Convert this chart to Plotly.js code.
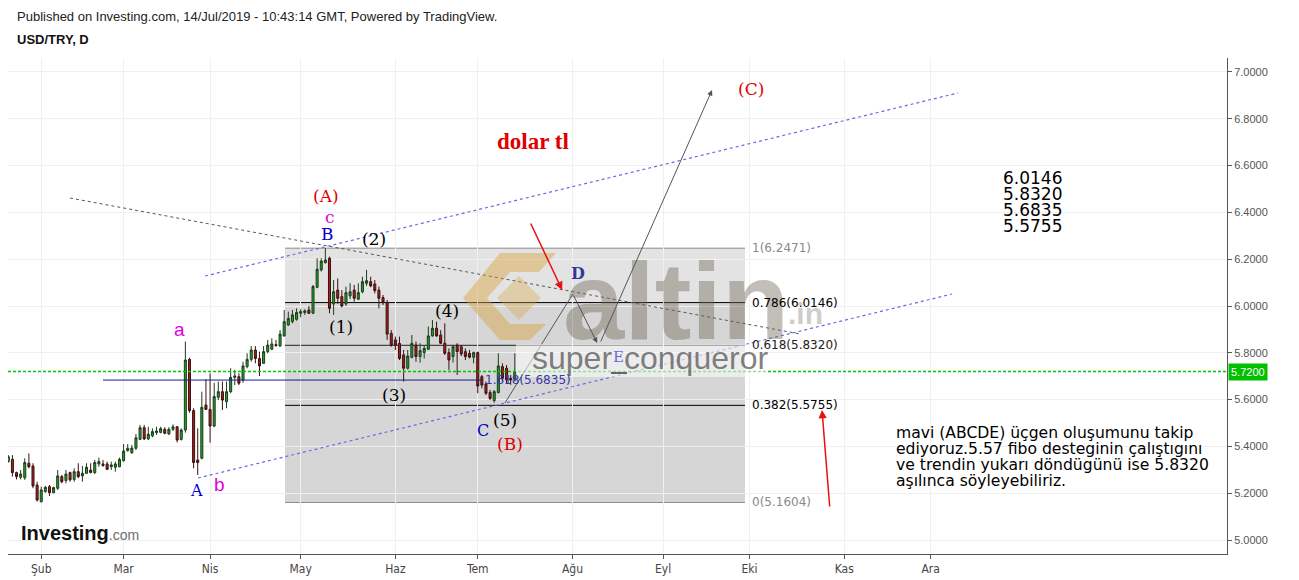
<!DOCTYPE html>
<html><head><meta charset="utf-8">
<script src="https://cdn.plot.ly/plotly-3.0.1.min.js"></script>
<style>html,body{margin:0;padding:0;background:#fff;} #chart{width:1299px;height:580px;}</style>
</head><body><div id="chart"></div>
<script>
// ---- DATA (USD/TRY daily) ----
const dates = [
'2019-01-22','2019-01-23','2019-01-24','2019-01-25','2019-01-28','2019-01-29','2019-01-30','2019-01-31',
'2019-02-01','2019-02-04','2019-02-05','2019-02-06','2019-02-07','2019-02-08','2019-02-11','2019-02-12','2019-02-13','2019-02-14','2019-02-15','2019-02-18','2019-02-19','2019-02-20','2019-02-21','2019-02-22','2019-02-25','2019-02-26','2019-02-27','2019-02-28',
'2019-03-01','2019-03-04','2019-03-05','2019-03-06','2019-03-07','2019-03-08','2019-03-11','2019-03-12','2019-03-13','2019-03-14','2019-03-15','2019-03-18','2019-03-19','2019-03-20','2019-03-21','2019-03-22','2019-03-25','2019-03-26','2019-03-27','2019-03-28','2019-03-29',
'2019-04-01','2019-04-02','2019-04-03','2019-04-04','2019-04-05','2019-04-08','2019-04-09','2019-04-10','2019-04-11','2019-04-12','2019-04-15','2019-04-16','2019-04-17','2019-04-18','2019-04-19','2019-04-22','2019-04-23','2019-04-24','2019-04-25','2019-04-26','2019-04-29','2019-04-30',
'2019-05-01','2019-05-02','2019-05-03','2019-05-06','2019-05-07','2019-05-08','2019-05-09','2019-05-10','2019-05-13','2019-05-14','2019-05-15','2019-05-16','2019-05-17','2019-05-20','2019-05-21','2019-05-22','2019-05-23','2019-05-24','2019-05-27','2019-05-28','2019-05-29','2019-05-30','2019-05-31',
'2019-06-03','2019-06-04','2019-06-05','2019-06-06','2019-06-07','2019-06-10','2019-06-11','2019-06-12','2019-06-13','2019-06-14','2019-06-17','2019-06-18','2019-06-19','2019-06-20','2019-06-21','2019-06-24','2019-06-25','2019-06-26','2019-06-27','2019-06-28',
'2019-07-01','2019-07-02','2019-07-03','2019-07-04','2019-07-05','2019-07-08','2019-07-09','2019-07-10','2019-07-11','2019-07-12'];
const openP = [5.335,5.345,5.288,5.268,5.266,5.328,5.316,5.235,
5.164,5.207,5.228,5.202,5.221,5.271,5.254,5.288,5.259,5.292,5.274,5.285,5.299,5.288,5.325,5.325,5.325,5.313,5.311,5.313,
5.339,5.382,5.373,5.392,5.430,5.480,5.432,5.445,5.459,5.460,5.473,5.453,5.473,5.484,5.430,5.470,5.772,5.553,5.342,5.349,5.577,
5.558,5.487,5.610,5.634,5.591,5.634,5.695,5.698,5.684,5.741,5.772,5.812,5.776,5.755,5.805,5.815,5.835,5.829,5.872,5.919,5.933,5.943,
5.969,5.972,5.983,5.969,6.080,6.154,6.185,6.204,6.009,6.068,6.040,6.009,6.043,6.068,6.029,6.061,6.097,6.104,6.094,6.068,6.036,6.014,5.883,
5.855,5.840,5.791,5.734,5.781,5.833,5.784,5.801,5.815,5.872,5.905,5.876,5.841,5.801,5.784,5.833,5.826,5.805,5.798,5.781,
5.801,5.698,5.667,5.630,5.596,5.630,5.741,5.734,5.691,5.687];
const highP = [5.363,5.363,5.292,5.299,5.349,5.370,5.328,5.249,
5.228,5.231,5.235,5.228,5.299,5.278,5.299,5.292,5.306,5.328,5.316,5.328,5.328,5.342,5.352,5.342,5.335,5.335,5.335,5.352,
5.410,5.410,5.406,5.453,5.492,5.492,5.484,5.477,5.484,5.484,5.482,5.482,5.494,5.487,5.477,5.848,5.779,5.563,5.477,5.634,5.687,
5.712,5.672,5.677,5.677,5.677,5.734,5.727,5.712,5.762,5.798,5.829,5.829,5.805,5.829,5.855,5.862,5.855,5.897,5.983,5.976,5.983,5.990,
5.986,5.986,6.000,6.090,6.204,6.204,6.247,6.211,6.111,6.118,6.068,6.083,6.097,6.090,6.097,6.125,6.154,6.125,6.111,6.083,6.047,6.026,5.897,
5.869,5.869,5.812,5.812,5.876,5.848,5.841,5.829,5.912,5.940,5.933,5.897,5.926,5.819,5.833,5.841,5.833,5.819,5.812,5.805,
5.805,5.705,5.677,5.641,5.641,5.798,5.755,5.748,5.705,5.798];
const lowP = [5.331,5.271,5.259,5.259,5.257,5.306,5.221,5.164,
5.160,5.202,5.188,5.200,5.214,5.242,5.242,5.249,5.249,5.264,5.249,5.282,5.285,5.282,5.313,5.313,5.299,5.299,5.292,5.311,
5.335,5.378,5.368,5.385,5.427,5.427,5.427,5.439,5.449,5.456,5.452,5.449,5.466,5.417,5.425,5.459,5.544,5.306,5.278,5.345,5.556,
5.416,5.482,5.598,5.556,5.563,5.627,5.662,5.662,5.672,5.734,5.762,5.755,5.701,5.752,5.798,5.812,5.826,5.826,5.869,5.915,5.926,5.937,
5.952,5.962,5.966,5.966,6.076,6.147,6.182,5.969,5.962,6.009,5.994,6.000,6.029,6.019,6.026,6.054,6.086,6.080,6.054,5.990,6.004,5.855,5.826,
5.812,5.769,5.677,5.729,5.776,5.762,5.758,5.776,5.812,5.869,5.869,5.838,5.791,5.727,5.758,5.705,5.786,5.769,5.776,5.755,
5.627,5.648,5.620,5.598,5.587,5.627,5.677,5.670,5.663,5.677];
const closeP = [5.356,5.288,5.271,5.282,5.331,5.313,5.231,5.171,
5.214,5.225,5.202,5.224,5.274,5.249,5.282,5.257,5.292,5.271,5.285,5.311,5.288,5.331,5.335,5.318,5.302,5.321,5.325,5.345,
5.380,5.392,5.393,5.437,5.480,5.432,5.452,5.463,5.466,5.476,5.456,5.473,5.484,5.427,5.470,5.769,5.553,5.331,5.331,5.567,5.558,
5.487,5.613,5.634,5.598,5.634,5.695,5.701,5.670,5.744,5.772,5.812,5.776,5.744,5.805,5.833,5.838,5.831,5.880,5.933,5.947,5.962,5.972,
5.976,5.979,5.969,6.083,6.157,6.192,6.197,5.990,6.061,6.033,6.000,6.057,6.061,6.033,6.057,6.104,6.108,6.086,6.066,6.033,6.014,5.880,5.833,
5.833,5.776,5.734,5.786,5.840,5.784,5.809,5.819,5.872,5.905,5.872,5.841,5.798,5.769,5.826,5.805,5.795,5.784,5.781,5.801,
5.658,5.662,5.627,5.605,5.634,5.744,5.691,5.684,5.684,5.720];

const monthTickDates = ['2019-02-01','2019-03-01','2019-04-01','2019-05-01','2019-06-03','2019-07-01','2019-08-01','2019-09-02','2019-10-01','2019-11-01','2019-12-02'];
const monthTickLabels = ['Şub','Mar','Nis','May','Haz','Tem','Ağu','Eyl','Eki','Kas','Ara'];

const fibLevels = [1, 0.786, 0.618, 0.382, 0];
const fibPrices = [6.2471, 6.0146, 5.8320, 5.5755, 5.1604];
const fibColors = ['#8a8a8a','#000000','#222222','#000000','#8a8a8a'];
const extLevel = 1.618, extPrice = 5.6835;
const lastPrice = 5.72;
const noteNumbers = ['6.0146','5.8320','5.6835','5.5755'];
const noteLines = ['mavi (ABCDE) üçgen oluşumunu takip','ediyoruz.5.57 fibo desteginin çalıştıgını','ve trendin yukarı döndügünü ise 5.8320','aşılınca söyleyebiliriz.'];

// ---- helpers ----
// date that is n weekdays (fractional) after the first bar
function wd(n){
  const base = Date.UTC(2019,0,22);
  if(n < 0) return new Date(base + n*86400000).toISOString().replace('T',' ').slice(0,19);
  let whole = Math.floor(n), frac = n - whole, t = base, c = 0;
  while(c < whole){ t += 86400000; const g = new Date(t).getUTCDay(); if(g!==0 && g!==6) c++; }
  return new Date(t + frac*86400000).toISOString().replace('T',' ').slice(0,19);
}
const L=8, R=1227, T=58, B=554;
const PX = x => (x-L)/(R-L);
const PY = y => (B-y)/(B-T);

const trace = {
  type:'candlestick', x:dates, open:openP, high:highP, low:lowP, close:closeP,
  increasing:{line:{color:'#1d3a1d',width:1}, fillcolor:'#22a322'},
  decreasing:{line:{color:'#3a1212',width:1}, fillcolor:'#a81c1c'},
  whiskerwidth:0, hoverinfo:'skip', showlegend:false
};

const fx0 = wd(67.2), fx1 = wd(178.9);
const shapes = [];
shapes.push({type:'rect', layer:'below', xref:'x', yref:'y', x0:fx0, x1:fx1, y0:fibPrices[1], y1:fibPrices[0], fillcolor:'#e3e3e3', line:{width:0}});
shapes.push({type:'rect', layer:'below', xref:'x', yref:'y', x0:fx0, x1:fx1, y0:fibPrices[4], y1:fibPrices[1], fillcolor:'#d6d6d6', line:{width:0}});
fibPrices.forEach((p,i)=>shapes.push({type:'line', layer:'below', xref:'x', yref:'y', x0:fx0, x1:fx1, y0:p, y1:p, line:{color:fibColors[i], width:1}}));
// 1.618 extension line
shapes.push({type:'line', xref:'x', yref:'y', x0:wd(23), x1:wd(115), y0:extPrice, y1:extPrice, line:{color:'#1a1a8c', width:1}});
// last price line
shapes.push({type:'line', xref:'paper', yref:'y', x0:0, x1:1, y0:lastPrice, y1:lastPrice, line:{color:'rgb(0,200,0)', width:1.3, dash:'3px,2px'}});
// trend lines
shapes.push({type:'line', xref:'x', yref:'y', x0:wd(15.0), y0:6.4615, x1:wd(192.3), y1:5.8803, line:{color:'#555', width:1, dash:'dot'}});
shapes.push({type:'line', xref:'x', yref:'y', x0:wd(47.8), y0:6.1282, x1:wd(230.6), y1:6.9103, line:{color:'#6a6ae6', width:1.2, dash:'dot'}});
shapes.push({type:'line', xref:'x', yref:'y', x0:wd(46.07), y0:5.2650, x1:wd(229.2), y1:6.0513, line:{color:'#6a6ae6', width:1.2, dash:'dot'}});
// (5) -> D
shapes.push({type:'line', xref:'x', yref:'y', x0:wd(120.6), y0:5.5855, x1:wd(137.1), y1:6.0513, line:{color:'#555', width:1}});
// watermark band
shapes.push({type:'rect', xref:'paper', yref:'paper', x0:PX(516), x1:PX(768), y0:PY(377), y1:PY(344), fillcolor:'rgba(255,255,255,0.55)', line:{width:0}});
shapes.push({type:'line', xref:'paper', yref:'paper', x0:PX(611), x1:PX(627), y0:PY(373), y1:PY(373), line:{color:'#666', width:2}});
// gold logo
function pth(pts){ return 'M ' + pts.map(p=>PX(p[0]).toFixed(5)+' '+PY(p[1]).toFixed(5)).join(' L ') + ' Z'; }
shapes.push({type:'path', xref:'paper', yref:'paper', path:pth([[463,298],[500,253],[556,253],[539,272],[510,272],[487,298],[510,324],[546,324],[530,340],[500,340]]), fillcolor:'rgba(214,162,60,0.45)', line:{width:0}});
shapes.push({type:'path', xref:'paper', yref:'paper', path:pth([[497,298],[519,276],[541,298],[519,320]]), fillcolor:'rgba(214,162,60,0.35)', line:{width:0}});

const ann = [];
function txt(x,y,t,color,size,family,extra){ ann.push(Object.assign({xref:'x', yref:'y', x:x, y:y, text:t, showarrow:false, xanchor:'center', yanchor:'middle', font:{color:color, size:size, family:family}}, extra||{})); }
function ptxt(x,y,t,color,size,family,extra){ ann.push(Object.assign({xref:'paper', yref:'paper', x:PX(x), y:PY(y), text:t, showarrow:false, xanchor:'left', yanchor:'middle', font:{color:color, size:size, family:family}}, extra||{})); }
function arrow(n0,p0,n1,p1,color,w){ ann.push({xref:'x', yref:'y', axref:'x', ayref:'y', x:wd(n1), y:p1, ax:wd(n0), ay:p0, text:'', showarrow:true, arrowhead:2, arrowsize:1.1, arrowwidth:w, arrowcolor:color}); }

const SERIF='Liberation Serif, Times New Roman, serif', DSERIF='DejaVu Serif, serif', SANS='DejaVu Sans, Verdana, sans-serif', ARIAL='Liberation Sans, Arial, sans-serif';
// header
ptxt(15,17,'Published on Investing.com, 14/Jul/2019 - 10:43:14 GMT, Powered by TradingView.','#222',13,ARIAL);
ptxt(15,40,'<b>USD/TRY, D</b>','#111',13,ARIAL);
ptxt(19,533,'<b>Investing</b><span style="font-size:14px;color:#6d6d6d">.com</span>','#111',20,ARIAL);
// watermark
ann.push({xref:'paper', yref:'paper', x:PX(676), y:PY(300), text:'<b>altin</b>', showarrow:false, xanchor:'center', yanchor:'middle', font:{size:110, family:ARIAL, color:'rgba(110,100,85,0.42)'}});
ann.push({xref:'paper', yref:'paper', x:PX(786), y:PY(313), text:'<b>.in</b>', showarrow:false, xanchor:'left', yanchor:'middle', font:{size:30, family:ARIAL, color:'rgba(120,110,95,0.35)'}});
ann.push({xref:'paper', yref:'paper', x:PX(572), y:PY(358), text:'super', showarrow:false, xanchor:'center', yanchor:'middle', font:{size:32, family:ARIAL, color:'rgba(95,95,95,0.8)'}});
ann.push({xref:'paper', yref:'paper', x:PX(696), y:PY(358), text:'conqueror', showarrow:false, xanchor:'center', yanchor:'middle', font:{size:32, family:ARIAL, color:'rgba(95,95,95,0.8)'}});
// fib labels
fibPrices.forEach((p,i)=>{ ann.push({xref:'x', yref:'y', x:wd(180.1), y:p, text:fibLevels[i]+'('+p.toFixed(4)+')', showarrow:false, xanchor:'left', yanchor:'middle', font:{size:12, family:SANS, color:fibColors[i]}}); });
ann.push({xref:'x', yref:'y', x:wd(115.3), y:extPrice, text:extLevel+'('+extPrice.toFixed(4)+')', showarrow:false, xanchor:'left', yanchor:'middle', font:{size:12, family:SANS, color:'#3838a8'}});
// wave labels
txt(wd(77.2),6.4701,'(A)','#e00000',17,DSERIF);
txt(wd(78.1),6.3803,'c','#e000e0',17,DSERIF);
txt(wd(77.4),6.3077,'B','#0000d0',17,DSERIF);
txt(wd(88.8),6.2863,'(2)','#000',17,DSERIF);
txt(wd(80.8),5.9103,'(1)','#000',17,DSERIF);
txt(wd(106.5),5.9786,'(4)','#000',17,DSERIF);
txt(wd(93.7),5.6197,'(3)','#000',17,DSERIF);
txt(wd(120.6),5.5128,'(5)','#000',17,DSERIF);
txt(wd(115.3),5.4701,'C','#0000d0',16,DSERIF);
txt(wd(121.8),5.4103,'(B)','#e00000',17,DSERIF);
txt(wd(41.5),5.9017,'a','#e000e0',19,ARIAL);
txt(wd(45.6),5.2137,'A','#0000d0',16,DSERIF);
txt(wd(51.2),5.2393,'b','#e000e0',19,ARIAL);
txt(wd(138.3),6.1368,'<b>D</b>','#35359a',16,DSERIF);
txt(wd(148.1),5.7821,'E','#6a6ad8',15,DSERIF);
txt(wd(180.3),6.9274,'(C)','#e00000',17,DSERIF);
txt(wd(127.4),6.7051,'<b>dolar tl</b>','#e00000',23,SERIF);
// right notes
noteNumbers.forEach((t,i)=>ptxt(1001,178+16*i,t,'#000',17,SANS));
noteLines.forEach((t,i)=>ptxt(894,433+16*i,t,'#000',15.6,SANS));
// arrows
arrow(137.1,6.0513,143.0,5.8419,'#555',1);
arrow(143.7,5.8419,170.9,6.9231,'#555',1);
arrow(126.7,6.3590,134.5,6.0684,'#e81010',1.5);
arrow(199.5,5.1368,197.6,5.5556,'#e81010',1.5);
// last price tag
ann.push({xref:'paper', yref:'y', x:1.001, y:lastPrice, text:lastPrice.toFixed(4), showarrow:false, xanchor:'left', yanchor:'middle', bgcolor:'#00c000', borderpad:2, font:{color:'#fff', size:11, family:ARIAL}});

const layout = {
  width:1299, height:580, margin:{l:L, r:1299-R, t:T, b:580-B},
  paper_bgcolor:'#fff', plot_bgcolor:'#fff', showlegend:false, hovermode:false,
  xaxis:{type:'date', range:[wd(-0.07), wd(295.95)], rangebreaks:[{bounds:['sat','mon']}], rangeslider:{visible:false},
    tickmode:'array', tickvals:monthTickDates, ticktext:monthTickLabels, ticks:'outside', ticklen:4, tickcolor:'#555',
    showline:true, linecolor:'#555', linewidth:1, showgrid:true, gridcolor:'#f0f0f0', zeroline:false,
    tickfont:{family:'Liberation Sans Narrow, DejaVu Sans Condensed, Arial', size:12, color:'#444'}},
  yaxis:{side:'right', range:[4.9402,7.0598], tick0:5, dtick:0.2, tickformat:'.4f', ticks:'outside', ticklen:4, tickcolor:'#555',
    showline:true, linecolor:'#555', linewidth:1, showgrid:true, gridcolor:'#f0f0f0', zeroline:false,
    tickfont:{family:ARIAL, size:11, color:'#555'}},
  shapes:shapes, annotations:ann
};
Plotly.newPlot('chart',[trace],layout,{displayModeBar:false, staticPlot:true});
</script></body></html>
